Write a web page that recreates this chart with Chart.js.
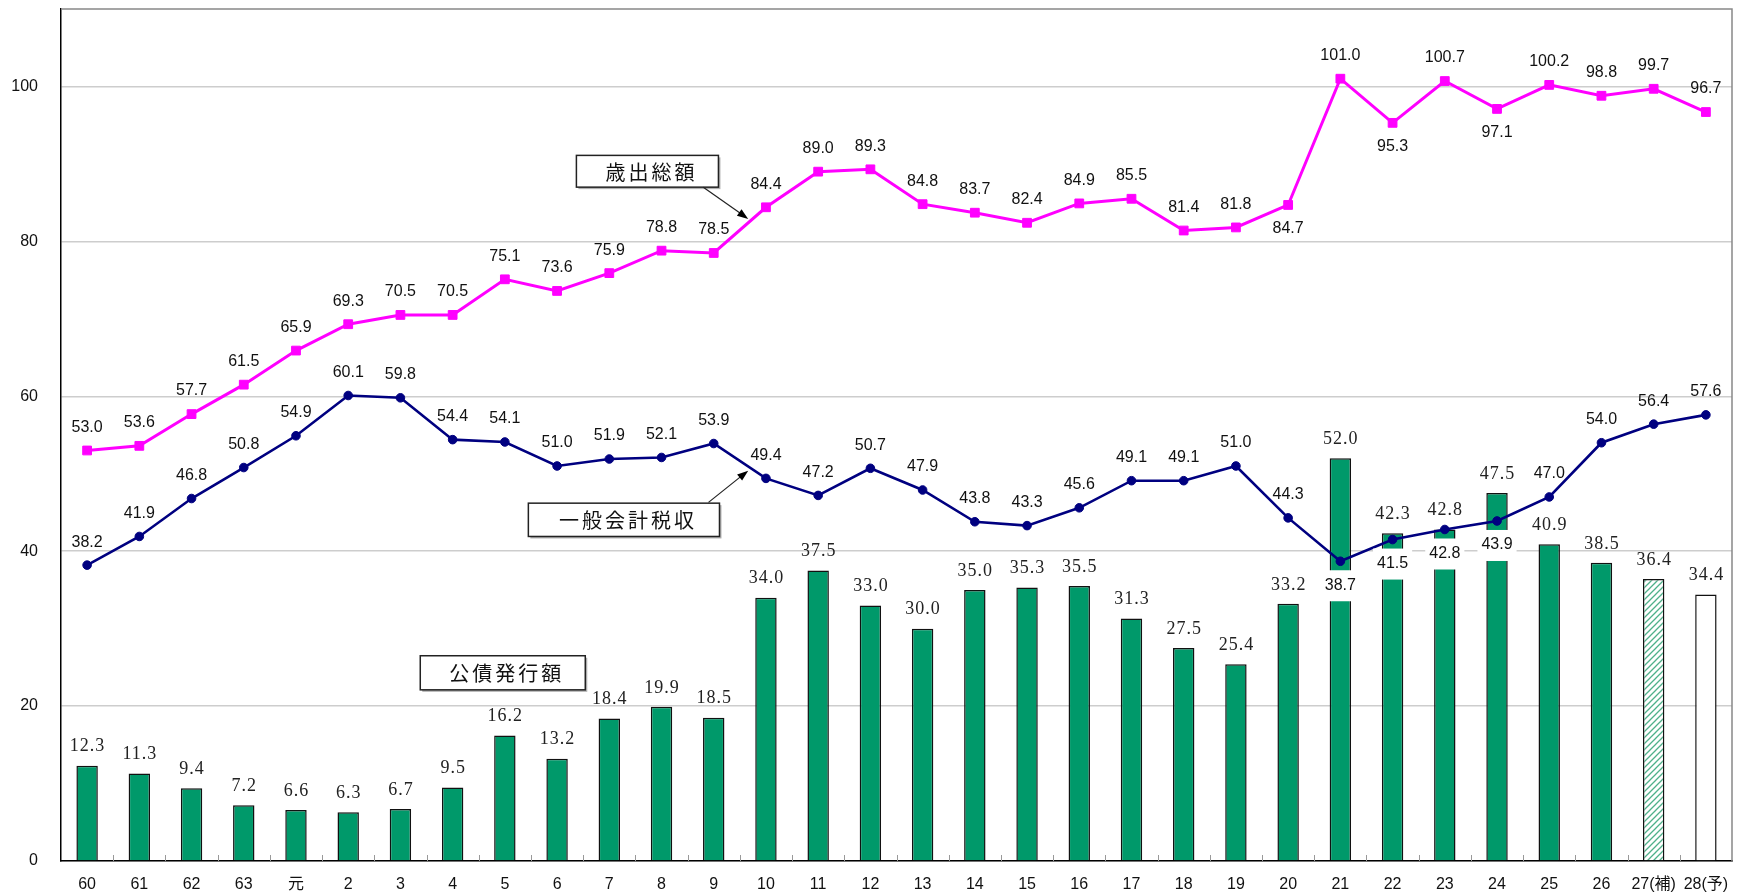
<!DOCTYPE html>
<html><head><meta charset="utf-8">
<script src="https://cdn.jsdelivr.net/npm/chart.js@4/dist/chart.umd.min.js"></script>
<style>html,body{margin:0;padding:0;background:#fff}#wrap{width:1745px;height:895px;position:relative}</style>
</head><body><div id="wrap"><canvas id="c"></canvas></div>
<script>
// ---- data ----
const categories = ['60','61','62','63','元','2','3','4','5','6','7','8','9','10','11','12','13','14','15','16','17','18','19','20','21','22','23','24','25','26','27(補)','28(予)'];
const expenditure = [53.0,53.6,57.7,61.5,65.9,69.3,70.5,70.5,75.1,73.6,75.9,78.8,78.5,84.4,89.0,89.3,84.8,83.7,82.4,84.9,85.5,81.4,81.8,84.7,101.0,95.3,100.7,97.1,100.2,98.8,99.7,96.7];
const taxRevenue = [38.2,41.9,46.8,50.8,54.9,60.1,59.8,54.4,54.1,51.0,51.9,52.1,53.9,49.4,47.2,50.7,47.9,43.8,43.3,45.6,49.1,49.1,51.0,44.3,38.7,41.5,42.8,43.9,47.0,54.0,56.4,57.6];
const bondIssuance = [12.3,11.3,9.4,7.2,6.6,6.3,6.7,9.5,16.2,13.2,18.4,19.9,18.5,34.0,37.5,33.0,30.0,35.0,35.3,35.5,31.3,27.5,25.4,33.2,52.0,42.3,42.8,47.5,40.9,38.5,36.4,34.4];
const yTicks = [0,20,40,60,80,100];
const seriesNames = ['歳出総額','一般会計税収','公債発行額'];

// ---- style config ----
const GREEN = '#00996a', PINK = '#ff00ff', NAVY = '#000080';
const expLabelsBelow = ['20','22','24'];
const taxLabelsBelow = ['21','22','23','24'];
const hatchedCats = ['27(補)'];
const hollowCats = ['28(予)'];
// callouts in (category index, value) coordinates
const callouts = [
  {text: seriesNames[0], box:[9.37,91.1,12.09,87.0], arrow:[11.80,87.0,12.66,82.9]},
  {text: seriesNames[1], box:[8.45,46.2,12.11,41.9], arrow:[11.90,46.3,12.66,50.4]},
  {text: seriesNames[2], box:[6.38,26.5,9.54,22.1]}
];

function makeHatch(){
  const c = document.createElement('canvas'); c.width = 6; c.height = 6;
  const g = c.getContext('2d');
  g.fillStyle = '#fff'; g.fillRect(0,0,6,6);
  g.strokeStyle = '#4fb08a'; g.lineWidth = 1.3;
  g.beginPath();
  g.moveTo(0,6); g.lineTo(6,0);
  g.moveTo(-3,3); g.lineTo(3,-3);
  g.moveTo(3,9); g.lineTo(9,3);
  g.stroke();
  return document.getElementById('c').getContext('2d').createPattern(c,'repeat');
}
const hatch = makeHatch();
const barColors = categories.map(c => hatchedCats.includes(c) ? hatch : hollowCats.includes(c) ? '#ffffff' : GREEN);

const frameAndTicks = {
  id: 'frameAndTicks',
  afterDatasetsDraw(chart){
    const {ctx, chartArea: a} = chart;
    ctx.save();
    ctx.strokeStyle = '#888'; ctx.lineWidth = 1.5;
    ctx.beginPath(); ctx.moveTo(a.left, a.top); ctx.lineTo(a.right, a.top); ctx.lineTo(a.right, a.bottom); ctx.stroke();
    ctx.strokeStyle = '#999'; ctx.lineWidth = 1;
    const n = categories.length, w = (a.right - a.left) / n;
    for (let i = 1; i < n; i++){
      const px = Math.round(a.left + i*w) + 0.5;
      ctx.beginPath(); ctx.moveTo(px, a.bottom); ctx.lineTo(px, a.bottom - 6); ctx.stroke();
    }
    ctx.restore();
  }
};

const valueLabels = {
  id: 'valueLabels',
  afterDatasetsDraw(chart){
    const ctx = chart.ctx;
    ctx.save();
    ctx.textAlign = 'center'; ctx.textBaseline = 'middle';
    const bm = chart.getDatasetMeta(2);
    ctx.font = '18px "Liberation Serif", serif';
    ctx.letterSpacing = '1px';
    ctx.fillStyle = '#222';
    bm.data.forEach((el, i) => {
      ctx.fillText(bondIssuance[i].toFixed(1), el.x + 0.5, el.y - 19);
    });
    ctx.letterSpacing = '0px';
    ctx.font = '16px "Liberation Sans", Arial, sans-serif';
    ctx.fillStyle = '#111';
    const tm = chart.getDatasetMeta(1);
    tm.data.forEach((el, i) => {
      const below = taxLabelsBelow.includes(categories[i]);
      const t = taxRevenue[i].toFixed(1);
      const y = below ? el.y + 24 : el.y - 23;
      if (below){
        const w = ctx.measureText(t).width + 8;
        ctx.fillStyle = '#fff';
        ctx.fillRect(el.x - w/2, y - 15, w, 31);
        ctx.fillStyle = '#111';
      }
      ctx.fillText(t, el.x, y);
    });
    const em = chart.getDatasetMeta(0);
    em.data.forEach((el, i) => {
      const below = expLabelsBelow.includes(categories[i]);
      ctx.fillText(expenditure[i].toFixed(1), el.x, below ? el.y + 24 : el.y - 23);
    });
    ctx.restore();
  }
};

const calloutPlugin = {
  id: 'callouts',
  afterDatasetsDraw(chart){
    const {ctx, scales:{x, y}} = chart;
    const X = v => x.getPixelForValue(v), Y = v => y.getPixelForValue(v);
    ctx.save();
    callouts.forEach(c => {
      const x1 = X(c.box[0]), y1 = Y(c.box[1]), x2 = X(c.box[2]), y2 = Y(c.box[3]);
      ctx.fillStyle = '#b0b0b0';
      ctx.fillRect(x1 + 2, y1 + 2, x2 - x1, y2 - y1);
      ctx.fillStyle = '#fff';
      ctx.fillRect(x1, y1, x2 - x1, y2 - y1);
      ctx.strokeStyle = '#222'; ctx.lineWidth = 1.5;
      ctx.strokeRect(x1, y1, x2 - x1, y2 - y1);
      ctx.fillStyle = '#111';
      ctx.font = '20px "Noto Sans CJK JP", sans-serif';
      ctx.letterSpacing = '3px';
      ctx.textAlign = 'center'; ctx.textBaseline = 'middle';
      ctx.fillText(c.text, (x1 + x2)/2 + 4, (y1 + y2)/2 + 1);
      ctx.letterSpacing = '0px';
      if (c.arrow){
        const ax1 = X(c.arrow[0]), ay1 = Y(c.arrow[1]), ax2 = X(c.arrow[2]), ay2 = Y(c.arrow[3]);
        const ang = Math.atan2(ay2 - ay1, ax2 - ax1), L = 11, W = 4;
        ctx.strokeStyle = '#222'; ctx.lineWidth = 1.2;
        ctx.beginPath(); ctx.moveTo(ax1, ay1);
        ctx.lineTo(ax2 - Math.cos(ang)*L*0.8, ay2 - Math.sin(ang)*L*0.8); ctx.stroke();
        ctx.fillStyle = '#000';
        ctx.beginPath();
        ctx.moveTo(ax2, ay2);
        ctx.lineTo(ax2 - Math.cos(ang)*L - Math.sin(ang)*W, ay2 - Math.sin(ang)*L + Math.cos(ang)*W);
        ctx.lineTo(ax2 - Math.cos(ang)*L + Math.sin(ang)*W, ay2 - Math.sin(ang)*L - Math.cos(ang)*W);
        ctx.closePath(); ctx.fill();
      }
    });
    ctx.restore();
  }
};

new Chart(document.getElementById('c'), {
  data: {
    labels: categories,
    datasets: [
      {type:'line', label: seriesNames[0], data: expenditure, borderColor: PINK, backgroundColor: PINK,
        borderWidth: 3, pointStyle: 'rect', pointRadius: 6.2, pointBorderWidth: 1, pointBorderColor: PINK, pointBackgroundColor: PINK, tension: 0, order: 1},
      {type:'line', label: seriesNames[1], data: taxRevenue, borderColor: NAVY, backgroundColor: NAVY,
        borderWidth: 2.6, pointStyle: 'circle', pointRadius: 4.3, pointBorderWidth: 1, pointBorderColor: NAVY, pointBackgroundColor: NAVY, tension: 0, order: 2},
      {type:'bar', label: seriesNames[2], data: bondIssuance, backgroundColor: barColors, borderColor: '#111', borderWidth: 1.5,
        barPercentage: 0.41, categoryPercentage: 1.0, order: 3}
    ]
  },
  options: {
    responsive: true, maintainAspectRatio: false, animation: false,
    layout: {padding: {top: 9, right: 13, left: 0, bottom: 0}},
    plugins: {legend: {display: false}, tooltip: {enabled: false}},
    scales: {
      x: {
        type: 'category', offset: true,
        grid: {display: false, drawTicks: false},
        border: {display: true, color: '#000', width: 1.5},
        ticks: {autoSkip: false, maxRotation: 0, minRotation: 0, padding: 14, color: '#111',
          font: {family: '"Liberation Sans", "Noto Sans CJK JP", sans-serif', size: 16}},
        afterFit(s){ s.height = 34; s.paddingLeft = 0; s.paddingRight = 0; s.paddingTop = 0; s.paddingBottom = 0; }
      },
      y: {
        min: 0, max: 110,
        afterBuildTicks(s){ s.ticks = yTicks.map(v => ({value: v})); },
        grid: {color: '#cdcdcd', lineWidth: 1.5, drawTicks: false},
        border: {display: true, color: '#000', width: 1.5},
        ticks: {padding: 23, color: '#111', font: {family: '"Liberation Sans", Arial, sans-serif', size: 16}},
        afterFit(s){ s.width = 61; s.paddingLeft = 0; s.paddingRight = 0; s.paddingTop = 0; s.paddingBottom = 0; }
      }
    }
  },
  plugins: [frameAndTicks, valueLabels, calloutPlugin]
});
</script>
</body></html>
